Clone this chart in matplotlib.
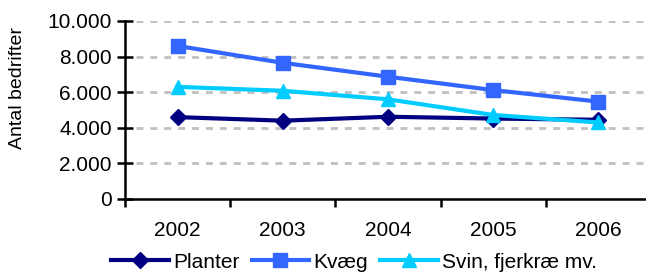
import matplotlib
matplotlib.use("Agg")
import matplotlib.pyplot as plt
from matplotlib.ticker import FuncFormatter, FixedLocator

plt.rcParams['font.family'] = ['Liberation Sans', 'DejaVu Sans']

years = ['2002', '2003', '2004', '2005', '2006']
planter = [4600, 4400, 4620, 4520, 4450]
kvaeg = [8600, 7650, 6870, 6120, 5470]
svin = [6300, 6080, 5600, 4720, 4300]

fig = plt.figure(figsize=(6.46, 2.76), dpi=100)
ax = fig.add_axes([125 / 646, 1 - 199 / 276, 526 / 646, 178 / 276])

x = list(range(len(years)))
ax.plot(x, planter, color='#000080', lw=3, marker='D', ms=8, label='Planter', zorder=3)
ax.plot(x, kvaeg, color='#3366FF', lw=3, marker='s', ms=10, label='Kvæg', zorder=3)
ax.plot(x, svin, color='#00CCFF', lw=3, marker='^', ms=10, label='Svin, fjerkræ mv.', zorder=4)

ax.set_xlim(-0.5, len(years) - 0.5)
ax.set_ylim(0, 10000)
ax.set_yticks(range(0, 10001, 2000))
ax.yaxis.set_major_formatter(FuncFormatter(lambda v, p: f"{int(v):,}".replace(',', '.')))

# category boundaries as major ticks, labels centred
ax.xaxis.set_major_locator(FixedLocator([i - 0.5 for i in range(len(years) + 1)]))
ax.xaxis.set_major_formatter(FuncFormatter(lambda v, p: ''))
ax.set_xticks(x, minor=True)
ax.set_xticklabels(years, minor=True)
ax.tick_params(axis='x', which='minor', length=0, pad=16, labelsize=15)
ax.tick_params(axis='x', which='major', length=5.5, width=1.8, direction='out')
ax.tick_params(axis='y', length=11, width=1.8, direction='inout', labelsize=15, pad=4)

for yv in range(2000, 10001, 2000):
    ax.axhline(yv, xmin=0.02, color='#C0C0C0', lw=2, ls=(0, (2.5, 2.5)), zorder=1)

for s in ['top', 'right']:
    ax.spines[s].set_visible(False)
ax.spines['left'].set_linewidth(1.8)
ax.spines['bottom'].set_linewidth(1.8)

fig.text(18 / 646, 1 - 88 / 276, 'Antal bedrifter', rotation=90, ha='center', va='center', fontsize=14)

fig.legend(loc='center', bbox_to_anchor=(354 / 646, 1 - 262 / 276), ncol=3, frameon=False,
           fontsize=15, handlelength=2.75, handletextpad=0.2, columnspacing=0.6, borderpad=0)

fig.savefig('out.png', dpi=100)
